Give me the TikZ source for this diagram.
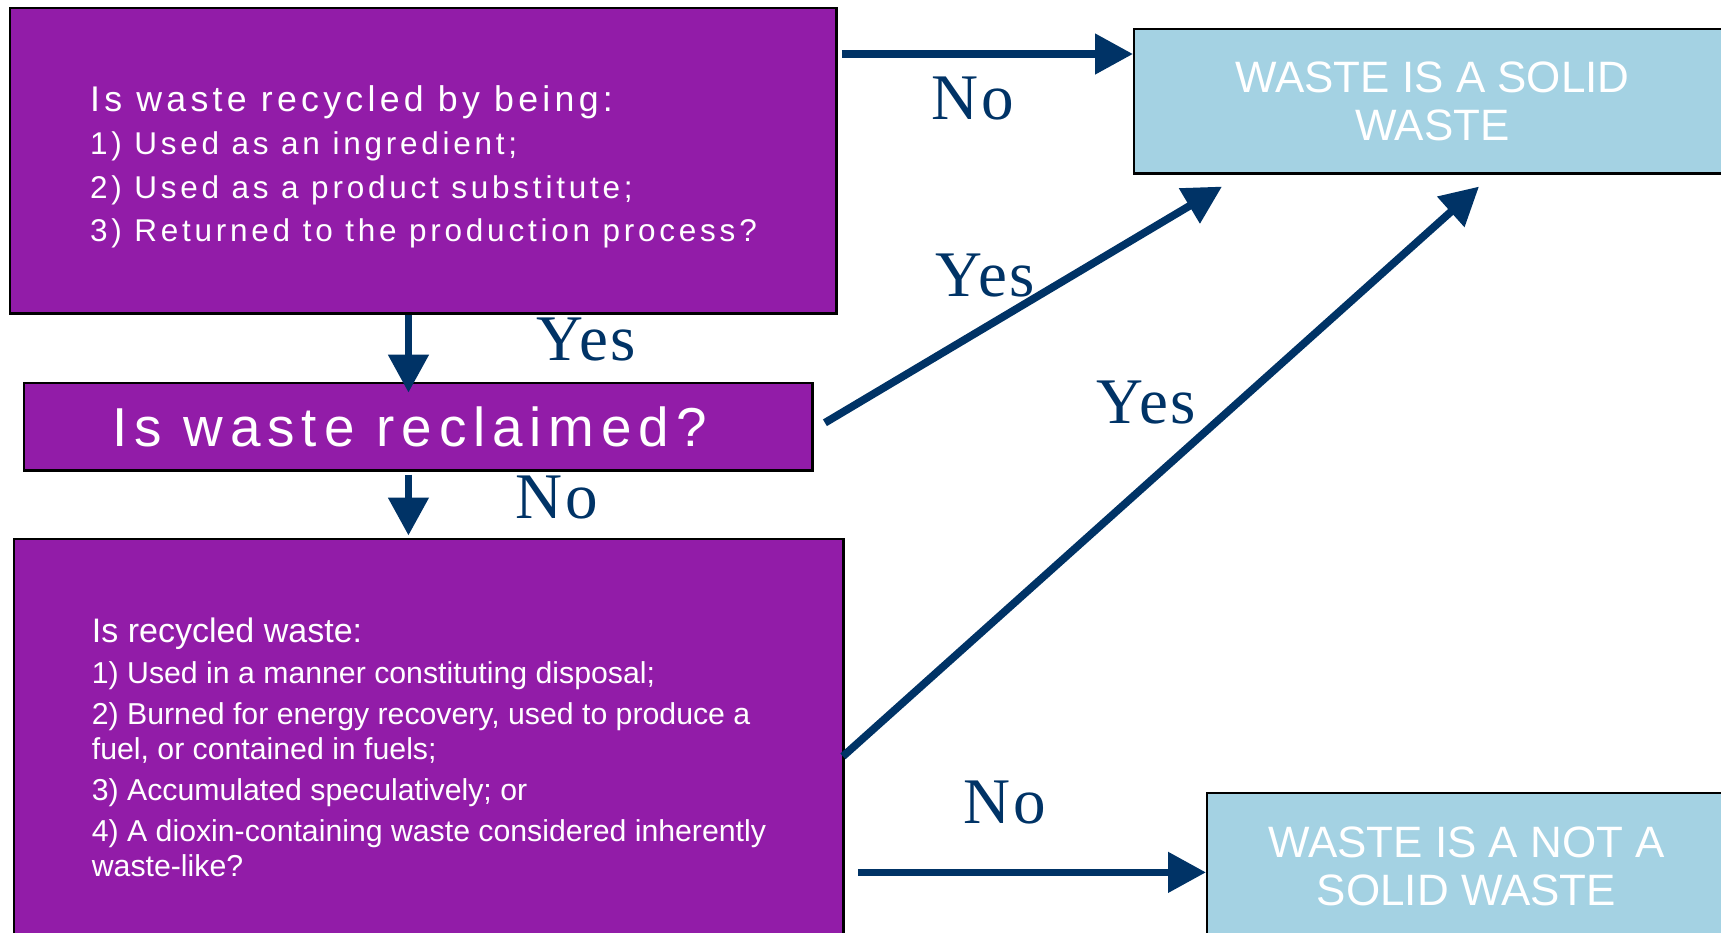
\documentclass[tikz,border=0pt]{standalone}
\usepackage{fontspec}
\setmainfont{Liberation Sans}
\newfontfamily\spacedsans[LetterSpace=12]{Liberation Sans}
\newfontfamily\reclaimsans[LetterSpace=12.5]{Liberation Sans}
\newfontfamily\answerfont[LetterSpace=4]{Liberation Serif}
\usetikzlibrary{arrows.meta,calc,positioning}
\definecolor{boxpurple}{RGB}{146,28,168}
\definecolor{resultblue}{RGB}{164,210,227}
\definecolor{arrownavy}{RGB}{0,51,102}
\tikzset{
  question/.style={draw=black, line width=0.7pt, fill=boxpurple, text=white, inner sep=0pt, anchor=north west, align=left},
  result/.style={draw=black, line width=0.7pt, fill=resultblue, text=white, inner sep=0pt, anchor=north west, align=center, font=\fontsize{12.5}{13.8}\selectfont},
  flow/.style={draw=arrownavy, line width=2.2pt, -{Triangle[length=10.8pt,width=11.1pt]}},
  answer/.style={text=arrownavy, anchor=base, font=\answerfont\fontsize{18.5}{20}\selectfont}
}

\begin{document}
\begin{tikzpicture}[x=0.01cm,y=-0.01cm]
			%%%%% START %%%%%
			\useasboundingbox (0,0) rectangle (1721,932);
			
			% question boxes
			\node[question, minimum width=8.26cm, minimum height=3.05cm, font=\spacedsans\fontsize{8.95}{12.4}\selectfont] (q1) at (9,7)
				{\rule{0pt}{10.8pt}{\fontsize{10.15}{12.4}\selectfont Is waste recycled by being:}\\
				 1) Used as an ingredient;\\
				 2) Used as a product substitute;\\
				 3) Returned to the production process?};
			\node[question, minimum width=7.88cm, minimum height=0.87cm, font=\reclaimsans\fontsize{15.6}{18}\selectfont] (reclaim) at (23,382)
				{Is waste reclaimed?\hspace{0.18cm}};
			\node[question, minimum width=8.29cm, minimum height=4.16cm, font=\fontsize{8.6}{9.96}\selectfont] (q3) at (13,538)
				{{\fontsize{9.67}{9.96}\selectfont Is recycled waste:}\\[1.7pt]
				 1) Used in a manner constituting disposal;\\[1.7pt]
				 2) Burned for energy recovery, used to produce a\\
				 fuel, or contained in fuels;\\[1.7pt]
				 3) Accumulated speculatively; or\\[1.7pt]
				 4) A dioxin-containing waste considered inherently\\
				 waste-like?};
			
			% result boxes
			\node[result, minimum width=5.96cm, minimum height=1.44cm] (solid) at (1133,28) {WASTE IS A SOLID\\WASTE};
			\node[result, minimum width=5.18cm, minimum height=1.46cm] (notsolid) at (1206,792) {WASTE IS A NOT A\\SOLID WASTE};
			
			% arrows
			\coordinate (noA) at ($(q1.north east)+(4,47)$);
			\draw[flow] (noA) -- (noA -| solid.west);
			\draw[flow] ($(q1.south)+(-15,0)$) -- ++(0,78);
			\draw[flow] ($(reclaim.south)+(-10,3)$) -- ++(0,61);
			\draw[flow] ($(reclaim.east)+(11,-4)$) -- ($(solid.south west)+(89,12)$);
			\draw[flow] ($(q3.east)+(-2,9)$) -- ($(solid.south west)+(346,12)$);
			\coordinate (noB) at ($(q3.east)+(13,125)$);
			\draw[flow] (noB) -- (noB -| notsolid.west);
			
			% answers
			\node[answer] (no0) at (973,119) {No};
			\node[answer] (yes1) at (586,360) {Yes};
			\node[answer] (no1) at (557,518) {No};
			\node[answer] (yes2) at (985,296) {Yes};
			\node[answer] (yes3) at (1146,423) {Yes};
			\node[answer] (no2) at (1005,823) {No};
			
			%%%%% END %%%%%
\end{tikzpicture}
\end{document}
